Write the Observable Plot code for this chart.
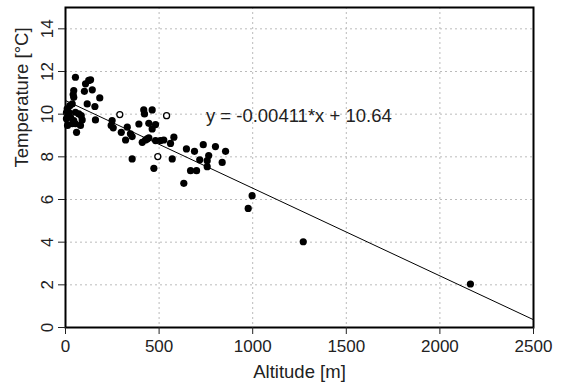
<!DOCTYPE html>
<html>
<head>
<meta charset="utf-8">
<script src="https://cdn.jsdelivr.net/npm/d3@7"></script>
<script src="https://cdn.jsdelivr.net/npm/@observablehq/plot@0.6"></script>
<style>
  html, body { margin: 0; padding: 0; background: #fff; }
</style>
</head>
<body>
<div id="chart"></div>
<script>
// Filled points: altitude [m], temperature [°C]
const altitude = [53,107,124,134,101,143,44,41,44,183,36,23,116,157,9,18,18,27,53,71,84,44,53,36,89,80,160,59,5,5,11,
  249,244,255,298,330,321,347,356,356,392,418,422,463,445,463,481,410,427,436,445,481,507,525,472,561,579,570,632,646,689,717,736,668,700,757,765,757,801,855,837,997,976,1270,2163];
const temperature = [11.73,11.42,11.58,11.61,11.07,11.14,11.11,10.92,10.79,10.76,10.48,10.40,10.48,10.36,10.25,10.09,9.93,9.85,10.09,10.01,9.93,9.70,9.55,9.55,9.73,9.47,9.73,9.15,9.79,10.07,9.47,
  9.70,9.47,9.36,9.15,9.39,8.79,9.08,8.95,7.90,9.54,10.20,10.01,10.20,9.57,9.31,9.51,8.68,8.79,8.84,8.89,8.76,8.76,8.79,7.46,8.63,8.92,7.90,6.76,8.37,8.26,7.86,8.57,7.35,7.35,7.82,8.06,7.54,8.48,8.26,7.74,6.18,5.58,4.02,2.04];
// Open (hollow) points
const openAltitude = [290,540,493];
const openTemperature = [9.98,9.93,8.01];

// Regression fit
const fitSlope = -0.00411;
const fitIntercept = 10.64;
const fitLabel = "y = -0.00411*x + 10.64";
const fitLabelAt = [750, 9.9];

const xLabel = "Altitude [m]";
const yLabel = "Temperature [°C]";
const xTicks = [0,500,1000,1500,2000,2500];
const yTicks = [0,2,4,6,8,10,12,14];
const xGrid = [500,1000,1500,2000];
const yGrid = [2,4,6,8,10,12,14];
const xDomain = [0,2500];
const yDomain = [0,15];

const filled = altitude.map((a,i)=>({x:a, y:temperature[i]}));
const hollow = openAltitude.map((a,i)=>({x:a, y:openTemperature[i]}));
const fitLine = xDomain.map(x=>({x, y: fitIntercept + fitSlope*x}));

const chart = Plot.plot({
  width: 583,
  height: 383,
  marginLeft: 65,
  marginRight: 50,
  marginTop: 7,
  marginBottom: 56,
  style: {fontFamily: "'Liberation Sans', Arial, sans-serif", fontSize: "17px", color: "#222", background: "#fff"},
  x: {domain: xDomain},
  y: {domain: yDomain},
  marks: [
    Plot.gridX(xGrid, {stroke: "#bbb", strokeOpacity: 1, strokeDasharray: "2,3"}),
    Plot.gridY(yGrid, {stroke: "#bbb", strokeOpacity: 1, strokeDasharray: "2,3"}),
    Plot.line(fitLine, {x: "x", y: "y", stroke: "#000", strokeWidth: 1}),
    Plot.dot(filled, {x: "x", y: "y", r: 3.6, fill: "#000", stroke: "none"}),
    Plot.dot(hollow, {x: "x", y: "y", r: 3, fill: "#fff", stroke: "#000", strokeWidth: 1.3}),
    Plot.text([fitLabel], {x: () => fitLabelAt[0], y: () => fitLabelAt[1], text: d => d, textAnchor: "start", fontSize: 18.5, fill: "#222"}),
    Plot.frame({stroke: "#000", strokeWidth: 2}),
    Plot.axisX({ticks: xTicks, tickSize: 7, tickPadding: 5, tickFormat: d3.format("d"), label: null, fontSize: 17}),
    Plot.axisY({ticks: yTicks, tickSize: 7, tickRotate: -90, tickPadding: 6, tickFormat: d3.format("d"), label: null, fontSize: 17}),
    Plot.text([xLabel], {frameAnchor: "bottom", dy: 45, lineAnchor: "middle", text: d => d, fontSize: 18.5, fill: "#222"}),
    Plot.text([yLabel], {frameAnchor: "left", dx: -43, rotate: -90, lineAnchor: "middle", text: d => d, fontSize: 18.5, fill: "#222"})
  ]
});
document.getElementById("chart").appendChild(chart);
</script>
</body>
</html>
